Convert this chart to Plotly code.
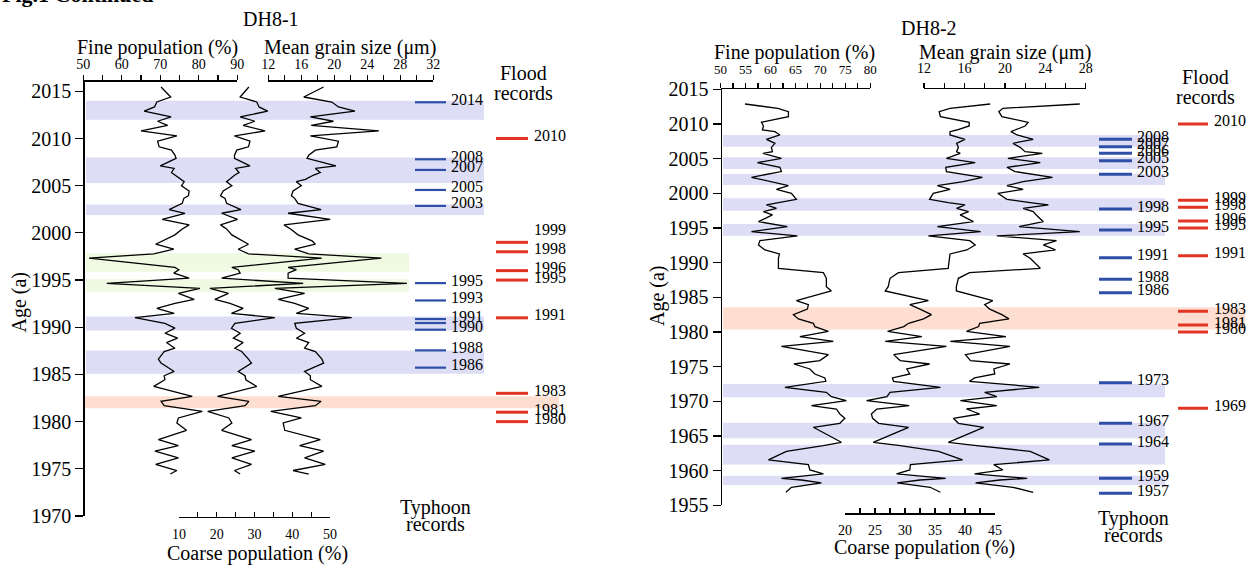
import plotly.graph_objects as go

W, H = 1255, 565
SERIF = "Liberation Serif, Times New Roman, Times, serif"

# ---------------- DH8-1 data ----------------
dh81_age = [2015.46, 2014.4, 2013.87, 2013.35, 2012.9, 2012.3, 2011.83, 2011.4, 2010.8, 2010.28,
            2009.72, 2009.12, 2008.77, 2008.24, 2007.89, 2007.1, 2006.83, 2006.4, 2006.13, 2005.67,
            2005.42, 2005.0, 2004.44, 2003.94, 2003.66, 2003.13, 2002.46, 2002.08, 2001.44, 2000.85,
            2000.42, 1999.79, 1999.15, 1998.8, 1998.27, 1997.78, 1997.32, 1996.34, 1996.1, 1995.74,
            1995.2, 1994.65, 1994.12, 1993.59, 1992.96, 1992.54, 1992.0, 1991.48, 1991.02, 1990.42,
            1989.9, 1989.37, 1988.84, 1988.38, 1987.78, 1987.43, 1986.62, 1986.2, 1985.32, 1984.86,
            1984.44, 1983.73, 1982.68, 1982.15, 1981.69, 1981.09, 1980.39, 1979.86, 1979.08, 1978.1,
            1977.46, 1976.87, 1976.16, 1975.46, 1974.82, 1974.45]
dh81_fine = [70.2, 72.7, 69.1, 68.5, 65.8, 72.8, 69.3, 71.9, 65.0, 74.3,
             69.3, 69.7, 72.9, 73.8, 74.1, 70.0, 73.6, 72.9, 73.8, 75.2,
             76.2, 75.5, 77.5, 77.3, 76.1, 75.7, 72.3, 76.4, 70.5, 77.5,
             75.7, 73.8, 70.5, 68.8, 73.5, 68.3, 51.5, 73.8, 74.8, 73.5,
             77.5, 56.1, 80.3, 74.7, 78.8, 73.8, 69.1, 73.6, 63.4, 71.2,
             73.8, 71.2, 74.5, 71.6, 73.8, 71.0, 69.5, 70.2, 73.6, 71.0,
             71.2, 68.3, 78.3, 70.2, 71.0, 80.9, 74.7, 74.3, 76.8, 69.5,
             74.7, 68.6, 74.7, 68.8, 74.3, 72.6]
dh81_coarse = [28.5, 26.2, 30.6, 31.2, 33.5, 26.2, 30.1, 27.0, 32.8, 24.7,
               28.8, 28.4, 25.3, 24.7, 24.7, 28.8, 25.0, 25.9, 24.8, 23.2,
               22.6, 24.0, 21.7, 21.0, 22.2, 22.6, 26.4, 21.3, 25.5, 21.0,
               22.6, 24.0, 26.6, 28.4, 25.7, 28.4, 47.8, 24.0, 25.7, 26.2,
               21.3, 42.9, 18.2, 23.1, 19.5, 23.5, 27.0, 23.9, 35.4, 24.8,
               23.9, 26.2, 24.4, 27.0, 24.8, 26.6, 28.4, 29.2, 25.7, 27.5,
               27.7, 30.6, 20.2, 28.5, 27.5, 17.6, 23.2, 24.0, 21.3, 29.2,
               24.0, 30.1, 24.0, 29.2, 24.7, 26.2]
dh81_mean = [18.7, 16.3, 19.7, 20.5, 22.5, 17.1, 19.9, 17.2, 25.4, 17.1,
             20.5, 20.3, 17.7, 16.9, 16.7, 20.2, 17.7, 18.3, 17.5, 16.5,
             15.4, 16.0, 15.0, 14.8, 15.2, 15.6, 18.4, 14.4, 19.5, 13.9,
             14.7, 15.6, 17.3, 17.7, 15.2, 16.9, 25.7, 14.4, 15.4, 14.4,
             14.4, 28.8, 12.8, 16.4, 13.2, 15.2, 16.9, 15.4, 22.1, 15.2,
             15.4, 16.4, 15.4, 16.9, 16.4, 17.7, 18.5, 18.7, 16.4, 17.1,
             17.1, 18.5, 13.2, 18.4, 17.7, 12.3, 16.0, 13.8, 14.0, 18.3,
             15.8, 18.7, 16.4, 18.9, 15.0, 16.9]

dh81_typhoon_pos = [2013.84, 2007.8, 2006.67, 2004.55, 2002.86, 1994.68, 1992.84, 1990.87, 1990.45, 1989.74, 1987.55, 1985.72]
dh81_typhoon_lbl = ["2014", "2008", "2007", "2005", "2003", "1995", "1993", "1991", "", "1990", "1988", "1986"]
dh81_flood_years = [2010, 1999, 1998, 1996, 1995, 1991, 1983, 1981, 1980]
dh81_flood_label_lift = {1999: 10}
dh81_blue_bands = [(2014.0, 2012.0), (2008.0, 2005.3), (2003.0, 2001.9), (1991.15, 1989.67), (1987.55, 1985.08)]
dh81_green_bands = [(1997.86, 1995.88), (1995.1, 1993.76)]
dh81_orange_bands = [(1982.68, 1981.41)]

# ---------------- DH8-2 data ----------------
dh82_age = [2012.88, 2012.26, 2011.78, 2011.06, 2010.24, 2009.71, 2009.13, 2008.89, 2008.41, 2007.79,
            2007.21, 2006.63, 2006.01, 2005.77, 2005.05, 2004.42, 2003.75, 2003.13, 2002.31, 2001.68,
            2001.11, 2000.58, 2000.0, 1999.13, 1998.65, 1998.32, 1997.84, 1997.36, 1996.88, 1995.91,
            1995.19, 1994.47, 1993.85, 1993.17, 1992.55, 1991.83, 1991.25, 1990.63, 1989.18, 1988.56,
            1987.74, 1986.54, 1985.91, 1984.52, 1983.94, 1983.3, 1982.5, 1981.88, 1981.25, 1980.77,
            1980.1, 1979.33, 1978.65, 1977.93, 1976.73, 1975.87, 1975.38, 1974.66, 1973.94, 1973.37,
            1972.88, 1972.02, 1971.3, 1970.67, 1970.1, 1969.38, 1968.89, 1968.17, 1967.55, 1966.83,
            1966.25, 1964.09, 1963.61, 1962.79, 1961.54, 1960.87, 1960.1, 1959.52, 1958.89, 1958.65,
            1958.22, 1957.6, 1956.88]
dh82_fine = [54.9, 61.5, 63.6, 63.6, 58.2, 58.6, 58.4, 60.9, 61.9, 59.2,
             60.9, 60.2, 60.4, 58.5, 62.2, 57.4, 61.9, 62.2, 56.2, 59.9,
             63.6, 61.2, 64.2, 65.2, 61.9, 59.2, 61.2, 58.6, 60.4, 57.6,
             63.4, 56.2, 65.4, 57.9, 57.6, 58.9, 61.8, 61.6, 61.6, 70.6,
             71.2, 71.2, 72.2, 65.2, 67.6, 67.4, 64.6, 65.6, 68.6, 68.9,
             71.6, 65.9, 72.6, 62.2, 71.6, 69.9, 64.7, 67.9, 68.9, 70.9,
             71.1, 62.9, 71.2, 72.2, 75.2, 68.2, 73.2, 73.9, 74.9, 73.9,
             68.6, 74.2, 70.6, 63.2, 59.6, 67.6, 67.9, 70.6, 62.2, 66.2,
             70.2, 64.2, 63.1]
dh82_coarse = [44.2, 37.5, 35.7, 35.9, 40.7, 40.7, 38.6, 37.5, 37.5, 40.0,
               38.6, 38.9, 38.6, 39.2, 36.9, 41.7, 36.8, 36.9, 42.9, 39.7,
               35.4, 37.5, 34.7, 34.1, 37.2, 40.0, 38.6, 40.6, 39.2, 41.4,
               35.4, 42.6, 33.9, 40.8, 41.7, 40.3, 37.5, 37.4, 37.2, 28.9,
               27.5, 27.2, 26.7, 33.9, 30.8, 32.5, 34.4, 33.1, 30.6, 29.8,
               27.1, 32.8, 26.7, 36.9, 28.1, 29.2, 34.1, 30.3, 30.8, 27.9,
               28.1, 35.9, 27.5, 27.0, 23.6, 30.7, 25.3, 24.4, 24.6, 25.6,
               30.6, 24.7, 29.2, 35.6, 39.6, 30.9, 30.8, 28.6, 36.8, 32.5,
               28.7, 34.2, 35.9]
dh82_mean = [27.4, 19.8, 19.4, 19.7, 22.3, 22.0, 21.0, 20.6, 21.2, 22.8,
             20.8, 21.5, 22.0, 23.7, 20.3, 23.5, 20.2, 21.0, 24.7, 21.8,
             20.2, 21.8, 19.3, 20.2, 22.5, 24.3, 21.8, 22.8, 23.1, 23.8,
             21.4, 27.4, 19.2, 25.1, 23.8, 25.0, 21.8, 22.5, 23.5, 16.5,
             15.4, 15.2, 15.2, 18.8, 18.0, 18.5, 19.7, 20.4, 17.5, 17.4,
             16.2, 20.1, 14.6, 20.5, 16.1, 16.6, 20.5, 18.9, 19.0, 17.0,
             16.5, 23.4, 18.0, 19.2, 15.6, 19.2, 16.2, 17.5, 14.9, 15.4,
             17.9, 14.4, 17.2, 22.5, 24.4, 18.9, 19.8, 17.0, 22.2, 19.5,
             17.1, 20.8, 22.8]

dh82_typhoon_pos = [2007.79, 2006.72, 2005.77, 2004.7, 2002.74, 1997.73, 1994.71, 1990.71, 1987.6, 1985.67,
                    1972.68, 1966.83, 1963.84, 1958.89, 1956.73]
dh82_typhoon_lbl = ["2008", "2007", "2006", "2005", "2003", "1998", "1995", "1991", "1988", "1986",
                    "1973", "1967", "1964", "1959", "1957"]
dh82_flood_years = [2010, 1999, 1998, 1996, 1995, 1991, 1983, 1981, 1980, 1969]
dh82_blue_bands = [(2008.41, 2006.73), (2005.19, 2003.51), (2002.79, 2001.2), (1999.28, 1997.5), (1995.58, 1993.89),
                   (1972.5, 1970.58), (1966.92, 1964.66), (1963.75, 1960.87), (1959.28, 1957.93)]
dh82_orange_bands = [(1983.56, 1980.34)]

# ---------------- styling ----------------
BLUE_BAND = "rgb(221,221,245)"
GREEN_BAND = "rgb(240,249,226)"
ORANGE_BAND = "rgb(253,222,208)"
TY_COLOR = "rgb(46,78,168)"
FL_COLOR = "rgb(226,52,34)"
TITLE_SIZE = 20


def X(p):
    return p / W


def Y(p):
    return 1 - p / H


def labels_every(vals, step, fmt="{:g}"):
    out = []
    for v in vals:
        r = (v / step)
        out.append(fmt.format(v) if abs(r - round(r)) < 1e-9 else "")
    return out


def frange(a, b, s):
    out = []
    v = a
    while v <= b + 1e-9:
        out.append(round(v, 4))
        v += s
    return out


base_ax = dict(showgrid=False, zeroline=False, showline=True, linecolor="black", linewidth=1.5,
               tickcolor="black", tickwidth=1.2, fixedrange=True)

fig = go.Figure()


def curve(x, y, xa, ya):
    fig.add_trace(go.Scatter(x=x, y=y, xaxis=xa, yaxis=ya, mode="lines",
                             line=dict(color="black", width=1.3), hoverinfo="skip", showlegend=False))


# left panel
curve(dh81_fine, dh81_age, "x", "y")
curve(dh81_mean, dh81_age, "x2", "y")
curve(dh81_coarse, dh81_age, "x3", "y")
# right panel
curve(dh82_fine, dh82_age, "x4", "y2")
curve(dh82_mean, dh82_age, "x5", "y2")
curve(dh82_coarse, dh82_age, "x6", "y2")

# --- axes ---
t_f1 = frange(50, 90, 5)
t_m1 = frange(12, 32, 2)
t_c1 = frange(10, 50, 5)
t_f2 = frange(50, 80, 2.5)
t_m2 = frange(12, 28, 2)
t_c2 = frange(20, 45, 2.5)

layout_axes = dict(
    yaxis=dict(base_ax, domain=[Y(516), Y(81.9)], range=[1970, 2016], anchor="free", position=X(83.3),
               ticks="outside", ticklen=8, tickvals=frange(1970, 2015, 5),
               tickfont=dict(family=SERIF, size=20, color="black")),
    xaxis=dict(base_ax, domain=[X(83.3), X(237.3)], range=[50, 90], anchor="y", side="top",
               ticks="outside", ticklen=5, tickvals=t_f1, ticktext=labels_every(t_f1, 10),
               tickfont=dict(family=SERIF, size=14, color="black"), ticklabelstandoff=1),
    xaxis2=dict(base_ax, domain=[X(268.3), X(433.3)], range=[12, 32], anchor="y", side="top",
                ticks="outside", ticklen=5, tickvals=t_m1, ticktext=labels_every(t_m1, 4),
                tickfont=dict(family=SERIF, size=14, color="black"), ticklabelstandoff=1),
    xaxis3=dict(base_ax, domain=[X(179), X(330)], range=[10, 50], anchor="free", position=Y(516.7), side="bottom",
                ticks="inside", ticklen=5, tickvals=t_c1, ticktext=labels_every(t_c1, 10),
                tickfont=dict(family=SERIF, size=14, color="black"), ticklabelstandoff=4),
    yaxis2=dict(base_ax, domain=[Y(505.3), Y(89.3)], range=[1955, 2015], anchor="free", position=X(720.5),
                ticks="outside", ticklen=8, tickvals=frange(1955, 2015, 5),
                tickfont=dict(family=SERIF, size=20, color="black")),
    xaxis4=dict(base_ax, domain=[X(720.5), X(870.3)], range=[50, 80], anchor="y2", side="top",
                ticks="outside", ticklen=5, tickvals=t_f2, ticktext=labels_every(t_f2, 5),
                tickfont=dict(family=SERIF, size=13, color="black"), ticklabelstandoff=4),
    xaxis5=dict(base_ax, domain=[X(924), X(1085.8)], range=[12, 28], anchor="y2", side="top",
                ticks="outside", ticklen=5, tickvals=t_m2, ticktext=labels_every(t_m2, 4),
                tickfont=dict(family=SERIF, size=14, color="black"), ticklabelstandoff=4),
    xaxis6=dict(base_ax, domain=[X(845), X(995)], range=[20, 45], anchor="free", position=Y(513.3), side="bottom",
                ticks="inside", ticklen=5, tickvals=t_c2, ticktext=labels_every(t_c2, 5),
                tickfont=dict(family=SERIF, size=14, color="black"), ticklabelstandoff=3),
)

shapes = []
annotations = []


def band(yref, y0, y1, x0, x1, color):
    shapes.append(dict(type="rect", xref="paper", yref=yref, x0=X(x0), x1=X(x1), y0=y0, y1=y1,
                       fillcolor=color, line=dict(width=0), layer="below"))


def record(yref, y, x0, x1, color, width, label, lx, lift=0):
    shapes.append(dict(type="line", xref="paper", yref=yref, x0=X(x0), x1=X(x1), y0=y, y1=y,
                       line=dict(color=color, width=width), layer="above"))
    if label:
        annotations.append(dict(xref="paper", yref=yref, x=X(lx), y=y, text=label, showarrow=False,
                                xanchor="left", yanchor="middle", yshift=3 + lift,
                                font=dict(family=SERIF, size=16, color="black")))


def text(px, py, s, size=TITLE_SIZE, bold=False, angle=0, xanchor="center"):
    annotations.append(dict(xref="paper", yref="paper", x=X(px), y=Y(py), text=("<b>%s</b>" % s) if bold else s,
                            showarrow=False, xanchor=xanchor, yanchor="middle", textangle=angle,
                            font=dict(family=SERIF, size=size, color="black")))


# left bands / records
for a, b in dh81_blue_bands:
    band("y", a, b, 86, 484, BLUE_BAND)
for a, b in dh81_green_bands:
    band("y", a, b, 86, 409, GREEN_BAND)
for a, b in dh81_orange_bands:
    band("y", a, b, 85, 559, ORANGE_BAND)
for p, l in zip(dh81_typhoon_pos, dh81_typhoon_lbl):
    record("y", p, 415, 446, TY_COLOR, 2.2, l, 449)
for yv in dh81_flood_years:
    record("y", yv, 496, 528, FL_COLOR, 3, str(yv), 532, dh81_flood_label_lift.get(yv, 0))

# right bands / records
for a, b in dh82_blue_bands:
    band("y2", a, b, 723, 1165, BLUE_BAND)
for a, b in dh82_orange_bands:
    band("y2", a, b, 723, 1245, ORANGE_BAND)
for p, l in zip(dh82_typhoon_pos, dh82_typhoon_lbl):
    record("y2", p, 1099, 1132, TY_COLOR, 3, l, 1135)
for yv in dh82_flood_years:
    record("y2", yv, 1178, 1208, FL_COLOR, 3, str(yv), 1212)

# texts
annotations.append(dict(xref="paper", yref="paper", x=0, y=Y(9), text="<b>Fig.1 Continued</b>", showarrow=False,
                        xanchor="left", yanchor="bottom", font=dict(family=SERIF, size=22, color="black")))
text(271, 19, "DH8-1")
text(157, 47, "Fine population (%)")
text(350, 47, "Mean grain size (μm)")
text(18.5, 302, "Age (a)", angle=-90)
text(257, 553, "Coarse population (%)")
text(523, 73, "Flood")
text(523, 93, "records")
text(435, 507, "Typhoon")
text(435, 524, "records")

text(929, 28, "DH8-2")
text(794, 52, "Fine population (%)")
text(1005, 52, "Mean grain size (μm)")
text(657, 296, "Age (a)", angle=-90)
text(924, 547, "Coarse population (%)")
text(1205, 77, "Flood")
text(1205, 97, "records")
text(1133, 518, "Typhoon")
text(1133, 535, "records")

fig.update_layout(
    width=W, height=H, margin=dict(l=0, r=0, t=0, b=0, pad=0), template="none",
    paper_bgcolor="white", plot_bgcolor="rgba(0,0,0,0)", showlegend=False,
    font=dict(family=SERIF, color="black"),
    shapes=shapes, annotations=annotations, **layout_axes,
)

fig.write_html("out.html", config={"displayModeBar": False, "staticPlot": True},
               post_script="document.body.style.margin='0';document.body.style.padding='0';")
